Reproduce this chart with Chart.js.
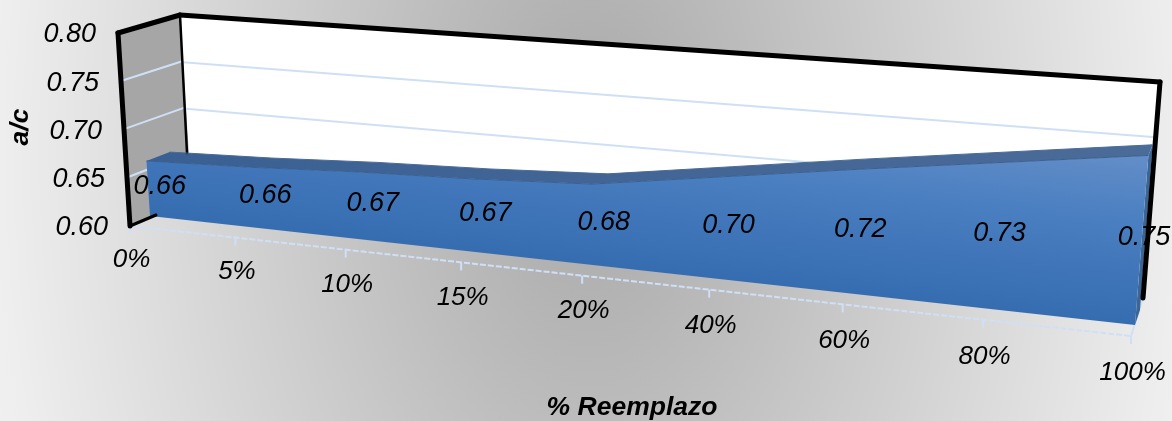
<!DOCTYPE html>
<html>
<head>
<meta charset="utf-8">
<script src="https://cdn.jsdelivr.net/npm/chart.js@4/dist/chart.umd.min.js"></script>
<style>
    html, body { margin: 0; padding: 0; overflow: hidden; }
    #wrap {
        width: 1172px; height: 421px;
        background: radial-gradient(ellipse 620px 1000px at 590px 150px, #a8a8a8 0%, #cdcdcd 50%, #eeeeee 95%, #f0f0f0 100%);
    }
    canvas { display: block; }
</style>
</head>
<body>
<div id="wrap"><canvas id="chart" width="1172" height="421"></canvas></div>
<script>
const categories = ['0%', '5%', '10%', '15%', '20%', '40%', '60%', '80%', '100%'];
// labels only show two decimals, the surface has kinks only at 20%
const values = [0.660, 0.664, 0.670, 0.674, 0.680, 0.698, 0.716, 0.733, 0.750];
const valueTicks = [0.60, 0.65, 0.70, 0.75, 0.80];
const xTitle = '% Reemplazo';
const yTitle = 'a/c';

// corners of each plane of the 3D box, in order TL, TR, BR, BL
const frontQuad = [[118, 33], [1149, 104], [1131, 336], [130, 226]];
const backQuad = [[180, 15], [1160, 82], [1143, 298], [192, 200]];
const leftQuad = [[118, 33], [180, 15], [192, 200], [130, 226]];
const seriesFrontQuad = [[138, 29], [1153, 97], [1135, 325], [150, 216]];
const seriesBackQuad = [[162, 23], [1157, 88], [1140, 310], [173, 206]];

const FONT = '"Liberation Sans", Arial, sans-serif';

// unit square to quad homography
function quadMap(q) {
    const [[x0, y0], [x1, y1], [x2, y2], [x3, y3]] = q;
    const dx1 = x1 - x2, dx2 = x3 - x2, sx = x0 - x1 + x2 - x3;
    const dy1 = y1 - y2, dy2 = y3 - y2, sy = y0 - y1 + y2 - y3;
    const den = dx1 * dy2 - dx2 * dy1;
    const g = (sx * dy2 - dx2 * sy) / den;
    const h = (dx1 * sy - sx * dy1) / den;
    const a = x1 - x0 + g * x1, b = x3 - x0 + h * x3;
    const d = y1 - y0 + g * y1, e = y3 - y0 + h * y3;
    return function (u, v) {
        const w = g * u + h * v + 1;
        return [(a * u + b * v + x0) / w, (d * u + e * v + y0) / w];
    };
}

const front = quadMap(frontQuad);
const back = quadMap(backQuad);
const left = quadMap(leftQuad);
const seriesFront = quadMap(seriesFrontQuad);
const seriesBack = quadMap(seriesBackQuad);

function norm(chart, index, value) {
    const area = chart.chartArea;
    const px = chart.scales.x.getPixelForValue(index);
    const py = chart.scales.y.getPixelForValue(value);
    return [(px - area.left) / (area.right - area.left), (py - area.top) / (area.bottom - area.top)];
}

function poly(ctx, pts) {
    ctx.beginPath();
    pts.forEach(function (p, i) {
        if (i === 0) ctx.moveTo(p[0], p[1]); else ctx.lineTo(p[0], p[1]);
    });
}

function stroke(ctx, a, b, width, color) {
    ctx.strokeStyle = color;
    ctx.lineWidth = width;
    poly(ctx, [a, b]);
    ctx.stroke();
}

const GRID = '#cfe0f6';
const BASE = valueTicks[0];
const TOP = valueTicks[valueTicks.length - 1];

const box3d = {
    id: 'box3d',
    // move the line points from the flat scales onto the series planes
    afterDatasetsUpdate: function (chart) {
        [seriesFront, seriesBack].forEach(function (plane, d) {
            chart.getDatasetMeta(d).data.forEach(function (pt, i) {
                const uv = norm(chart, i, values[i]);
                const p = plane(uv[0], uv[1]);
                pt.x = p[0];
                pt.y = p[1];
            });
        });
    },
    beforeDatasetsDraw: function (chart) {
        const ctx = chart.ctx;
        const last = categories.length - 1;
        ctx.save();
        ctx.lineJoin = 'round';

        // walls
        ctx.fillStyle = '#a6a6a6';
        poly(ctx, leftQuad); ctx.closePath(); ctx.fill();
        ctx.fillStyle = '#ffffff';
        poly(ctx, backQuad); ctx.closePath(); ctx.fill();

        // gridlines on the walls
        valueTicks.forEach(function (t) {
            if (t === BASE || t === TOP) return;
            const v = norm(chart, 0, t)[1];
            stroke(ctx, left(0, v), left(1, v), 2, GRID);
            stroke(ctx, back(0, v), back(1, v), 2, GRID);
        });

        // floor edges and ticks
        ctx.setLineDash([6, 2]);
        stroke(ctx, front(0, 1), front(1, 1), 2, GRID);
        ctx.setLineDash([]);
        stroke(ctx, front(1, 1), back(1, 1), 2, GRID);
        categories.forEach(function (c, i) {
            const p = front(norm(chart, i, BASE)[0], 1);
            stroke(ctx, p, [p[0], p[1] + 8], 2, GRID);
        });

        // series faces from the dataset points
        const f = chart.getDatasetMeta(0).data.map(function (pt) { return [pt.x, pt.y]; });
        const b = chart.getDatasetMeta(1).data.map(function (pt) { return [pt.x, pt.y]; });
        const f0 = seriesFront(0, 1), f1 = seriesFront(1, 1), b1 = seriesBack(1, 1);

        // right side
        ctx.fillStyle = '#3d6594';
        poly(ctx, [f[last], b[last], b1, f1]); ctx.closePath(); ctx.fill();

        // top
        const topGrad = ctx.createLinearGradient(f[0][0], 0, f[last][0], 0);
        topGrad.addColorStop(0, '#3a6093');
        topGrad.addColorStop(1, '#4b6b98');
        ctx.fillStyle = topGrad;
        poly(ctx, f.concat(b.slice().reverse())); ctx.closePath(); ctx.fill();

        // front
        const frontGrad = ctx.createLinearGradient(1147, 154, 1128, 323);
        frontGrad.addColorStop(0, '#648ec8');
        frontGrad.addColorStop(0.4, '#4a7fc1');
        frontGrad.addColorStop(1, '#366db1');
        ctx.fillStyle = frontGrad;
        poly(ctx, f.concat([f1, f0])); ctx.closePath(); ctx.fill();

        // black outline
        ctx.lineCap = 'round';
        stroke(ctx, backQuad[0], [187, 153], 2.5, '#000');
        stroke(ctx, leftQuad[3], [156, 215], 3, '#000');
        stroke(ctx, leftQuad[3], leftQuad[0], 5, '#000');
        stroke(ctx, leftQuad[0], leftQuad[1], 5, '#000');
        stroke(ctx, backQuad[0], backQuad[1], 5, '#000');
        stroke(ctx, backQuad[1], backQuad[2], 5, '#000');
        ctx.restore();
    },
    afterDatasetsDraw: function (chart) {
        const ctx = chart.ctx;
        ctx.save();
        ctx.fillStyle = '#000';
        ctx.textBaseline = 'middle';

        // value axis labels
        ctx.font = 'italic 27px ' + FONT;
        ctx.textAlign = 'right';
        valueTicks.forEach(function (t) {
            const uv = norm(chart, 0, t);
            const p = front(0, uv[1]);
            ctx.fillText(t.toFixed(2), p[0] - 22, p[1] + 1);
        });

        // category labels
        ctx.textAlign = 'center';
        ctx.font = 'italic 26px ' + FONT;
        categories.forEach(function (c, i) {
            const u = norm(chart, i, BASE)[0];
            const p = front(u, 1);
            ctx.fillText(c, p[0] + 1.5, p[1] + 34 + 3 * u);
        });

        // data labels, half way up the series and half way through its depth
        ctx.font = 'italic 27px ' + FONT;
        values.forEach(function (val, i) {
            const uv = norm(chart, i, (val + BASE) / 2);
            const a = seriesFront(uv[0], uv[1]), b = seriesBack(uv[0], uv[1]);
            const nudge = Math.min(4, 32 * uv[0] * (1 - uv[0]));
            ctx.fillText(val.toFixed(2), (a[0] + b[0]) / 2 + nudge, (a[1] + b[1]) / 2 + 3);
        });

        // axis titles
        ctx.font = 'italic bold 26.5px ' + FONT;
        ctx.fillText(xTitle, 632, 408);
        ctx.translate(21, 127);
        ctx.rotate(-Math.PI / 2);
        ctx.fillText(yTitle, 0, 0);
        ctx.restore();
    }
};

const ctx = document.getElementById('chart').getContext('2d');
const chart = new Chart(ctx, {
    type: 'line',
    data: {
        labels: categories,
        datasets: [
            { label: 'a/c', data: values, borderColor: '#3a6093', borderWidth: 1, pointRadius: 0, fill: false, clip: false },
            { label: 'a/c back', data: values, borderColor: '#4b6b98', borderWidth: 1, pointRadius: 0, fill: false, clip: false }
        ]
    },
    options: {
        responsive: false,
        animation: false,
        events: [],
        layout: { padding: 0 },
        plugins: { legend: { display: false }, tooltip: { enabled: false } },
        scales: {
            x: { display: false, offset: false },
            y: { display: false, min: BASE, max: TOP }
        }
    },
    plugins: [box3d]
});
</script>
</body>
</html>
